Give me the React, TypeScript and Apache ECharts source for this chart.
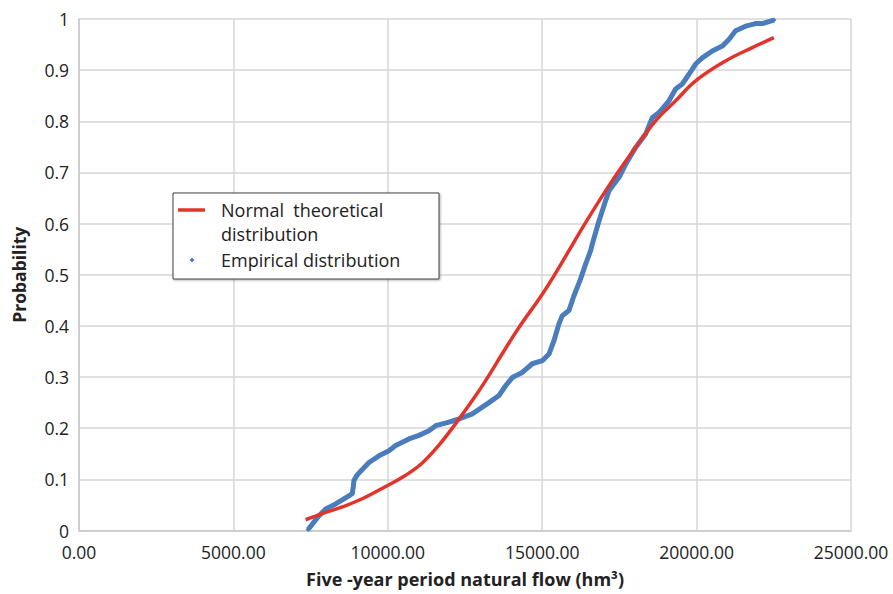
import React, { useEffect, useRef } from "react";
import * as echarts from "echarts";

// Normal theoretical distribution: [flow, probability]
const normalFlow = [7339, 7879, 8527, 9174, 9930, 10578, 11117, 11657, 12197, 12736, 13168, 13700, 14247, 15003, 15542, 15866, 16406, 17270, 18026, 18673, 19321, 19968, 20939, 21803, 22504];
const normalProb = [0.021, 0.033, 0.046, 0.062, 0.086, 0.108, 0.132, 0.167, 0.209, 0.254, 0.293, 0.345, 0.397, 0.462, 0.514, 0.547, 0.602, 0.684, 0.749, 0.801, 0.84, 0.879, 0.918, 0.944, 0.9635];

// Empirical distribution
const empFlow = [7420, 7771, 7988, 8312, 8581, 8850, 8880, 8905, 9013, 9390, 9714, 10038, 10254, 10685, 11009, 11333, 11550, 11981, 12304, 12736, 13276, 13600, 13816, 14031, 14355, 14679, 15003, 15219, 15381, 15542, 15650, 15866, 16028, 16244, 16406, 16568, 16622, 16838, 17054, 17162, 17486, 17702, 18026, 18350, 18565, 18781, 19105, 19321, 19536, 19752, 19968, 20184, 20507, 20831, 21047, 21263, 21587, 21911, 22126, 22342, 22504];
const empProb = [0.002, 0.029, 0.042, 0.052, 0.062, 0.072, 0.085, 0.098, 0.109, 0.133, 0.146, 0.156, 0.166, 0.179, 0.186, 0.195, 0.205, 0.212, 0.218, 0.228, 0.25, 0.264, 0.283, 0.299, 0.309, 0.326, 0.332, 0.345, 0.371, 0.404, 0.42, 0.43, 0.459, 0.492, 0.521, 0.547, 0.56, 0.605, 0.645, 0.664, 0.69, 0.716, 0.749, 0.775, 0.807, 0.817, 0.84, 0.863, 0.873, 0.892, 0.912, 0.924, 0.9375, 0.947, 0.96, 0.977, 0.986, 0.991, 0.991, 0.995, 0.998];

const xTitle = "Five -year period natural flow (hm³)";
const yTitle = "Probability";
const legendNames = ["Normal  theoretical", "distribution", "Empirical distribution"];

const RED = "#e2342a";
const BLUE = "#4a7dbd";
const FONT = "'Open Sans', 'Liberation Sans', sans-serif";

export default function App() {
  const ref = useRef<HTMLDivElement>(null);
  useEffect(() => {
    if (!ref.current) return;
    const chart = echarts.init(ref.current, undefined, { renderer: "svg" });
    const normalData = normalFlow.map((x, i) => [x, normalProb[i]]);
    const empData = empFlow.map((x, i) => [x, empProb[i]]);
    const legendText = (text: string, y: number) => ({
      type: "text",
      x: 221,
      y,
      style: { text, fontSize: 18, fontFamily: FONT, fill: "#222", verticalAlign: "middle" },
      z: 11,
    });
    chart.setOption({
      animation: false,
      backgroundColor: "#ffffff",
      textStyle: { fontFamily: FONT },
      grid: { left: 79, right: 42, top: 19, bottom: 63.5, containLabel: false },
      xAxis: {
        type: "value",
        min: 0,
        max: 25000,
        interval: 5000,
        axisLine: { show: true, lineStyle: { color: "#c8c8c8", width: 1.5 } },
        axisTick: { show: false },
        splitLine: { show: true, lineStyle: { color: "#d6d6d6", width: 1.5 } },
        axisLabel: {
          formatter: (v: number) => v.toFixed(2),
          fontSize: 17.5,
          color: "#222",
          margin: 12,
          fontFamily: FONT,
        },
        name: xTitle,
        nameLocation: "middle",
        nameGap: 39,
        nameTextStyle: { fontSize: 18, fontWeight: "bold", color: "#222", fontFamily: FONT },
      },
      yAxis: {
        type: "value",
        min: 0,
        max: 1,
        interval: 0.1,
        axisLine: { show: true, lineStyle: { color: "#c8c8c8", width: 1.5 } },
        axisTick: { show: false },
        splitLine: { show: true, lineStyle: { color: "#d6d6d6", width: 1.5 } },
        axisLabel: {
          fontSize: 17.5,
          color: "#222",
          margin: 10,
          fontFamily: FONT,
          formatter: (v: number) => String(Math.round(v * 10) / 10),
        },
        name: yTitle,
        nameLocation: "middle",
        nameGap: 51,
        nameRotate: 90,
        nameTextStyle: { fontSize: 17.5, fontWeight: "bold", color: "#222", fontFamily: FONT },
      },
      series: [
        {
          name: "Normal theoretical distribution",
          type: "line",
          data: normalData,
          smooth: 0.4,
          showSymbol: false,
          symbol: "none",
          lineStyle: { color: RED, width: 3.5 },
          z: 3,
        },
        {
          name: "Empirical distribution",
          type: "line",
          data: empData,
          symbol: "diamond",
          symbolSize: 5,
          showSymbol: true,
          itemStyle: { color: BLUE },
          lineStyle: { color: BLUE, width: 5 },
          z: 2,
        },
      ],
      graphic: [
        {
          type: "rect",
          shape: { x: 173, y: 193, width: 266, height: 86 },
          style: {
            fill: "#ffffff",
            stroke: "#404040",
            lineWidth: 1,
            shadowBlur: 2,
            shadowOffsetX: 1,
            shadowOffsetY: 1,
            shadowColor: "rgba(0,0,0,0.3)",
          },
          z: 10,
        },
        {
          type: "line",
          shape: { x1: 178, y1: 210, x2: 205, y2: 210 },
          style: { stroke: RED, lineWidth: 3.5 },
          z: 11,
        },
        {
          type: "polygon",
          shape: { points: [[192, 257.5], [194.5, 260], [192, 262.5], [189.5, 260]] },
          style: { fill: BLUE },
          z: 11,
        },
        legendText(legendNames[0], 210),
        legendText(legendNames[1], 234),
        legendText(legendNames[2], 260),
      ],
    });
    return () => chart.dispose();
  }, []);
  return (
    <div
      ref={ref}
      style={{ position: "fixed", left: 0, top: 0, width: 893, height: 594, background: "#fff" }}
    />
  );
}
